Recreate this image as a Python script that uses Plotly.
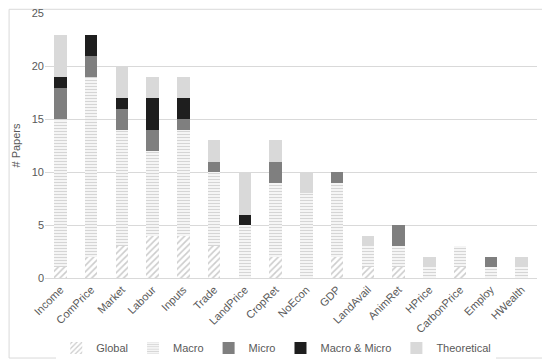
import plotly.graph_objects as go

categories = ["Income", "ComPrice", "Market", "Labour", "Inputs", "Trade", "LandPrice",
              "CropRet", "NoEcon", "GDP", "LandAvail", "AnimRet", "HPrice",
              "CarbonPrice", "Employ", "HWealth"]
global_v = [1, 2, 3, 4, 4, 3, 0, 2, 0, 2, 1, 1, 0, 1, 0, 0]
macro_v = [14, 17, 11, 8, 10, 7, 5, 7, 8, 7, 2, 2, 1, 2, 1, 1]
micro_v = [3, 2, 2, 2, 1, 1, 0, 2, 0, 1, 0, 2, 0, 0, 1, 0]
macromicro_v = [1, 2, 1, 3, 2, 0, 1, 0, 0, 0, 0, 0, 0, 0, 0, 0]
theoretical_v = [4, 0, 3, 2, 2, 2, 4, 2, 2, 0, 1, 0, 1, 0, 0, 1]

FONT = "Liberation Sans, Arial, sans-serif"
fig = go.Figure()
fig.add_bar(name="Global", x=categories, y=global_v,
            marker=dict(color="white", line=dict(width=0),
                        pattern=dict(shape="/", fgcolor="#9a9a9a", bgcolor="white", size=4.5, solidity=0.35)))
fig.add_bar(name="Macro", x=categories, y=macro_v,
            marker=dict(color="white", line=dict(width=0),
                        pattern=dict(shape="-", fgcolor="#acacac", bgcolor="white", size=3, solidity=0.5)))
fig.add_bar(name="Micro", x=categories, y=micro_v, marker=dict(color="#7f7f7f", line=dict(width=0)))
fig.add_bar(name="Macro & Micro", x=categories, y=macromicro_v, marker=dict(color="#1e1e1e", line=dict(width=0)))
fig.add_bar(name="Theoretical", x=categories, y=theoretical_v, marker=dict(color="#d9d9d9", line=dict(width=0)))

fig.update_layout(
    barmode="stack",
    bargap=0.6,
    width=542, height=353,
    margin=dict(l=37, r=13, t=5, b=83, autoexpand=False),
    paper_bgcolor="white", plot_bgcolor="white",
    font=dict(family=FONT, size=11, color="#595959"),
    showlegend=True,
    legend=dict(orientation="h", x=0.47, xanchor="center", y=-0.264, yanchor="middle",
                font=dict(size=11, color="#595959"), itemwidth=30, traceorder="normal",
                tracegroupgap=0),
    shapes=[dict(type="rect", xref="paper", yref="paper",
                 x0=-0.073, x1=1.02, y0=-0.302, y1=1.014,
                 line=dict(color="#d9d9d9", width=1), fillcolor="rgba(0,0,0,0)", layer="below")],
)
fig.update_xaxes(tickangle=-45, showgrid=False, showline=True, linecolor="#d9d9d9",
                 ticks="", automargin=False, tickfont=dict(size=11, color="#595959"))
fig.update_yaxes(range=[0, 25.04], tickvals=[0, 5, 10, 15, 20, 25], showgrid=True,
                 gridcolor="#d9d9d9", zeroline=False, ticklabeloverflow="allow",
                 showline=False, ticks="", automargin=False, tickfont=dict(size=11, color="#595959"),
                 title=dict(text="# Papers", font=dict(size=11, color="#595959"), standoff=8))

fig.write_html("out.html")
